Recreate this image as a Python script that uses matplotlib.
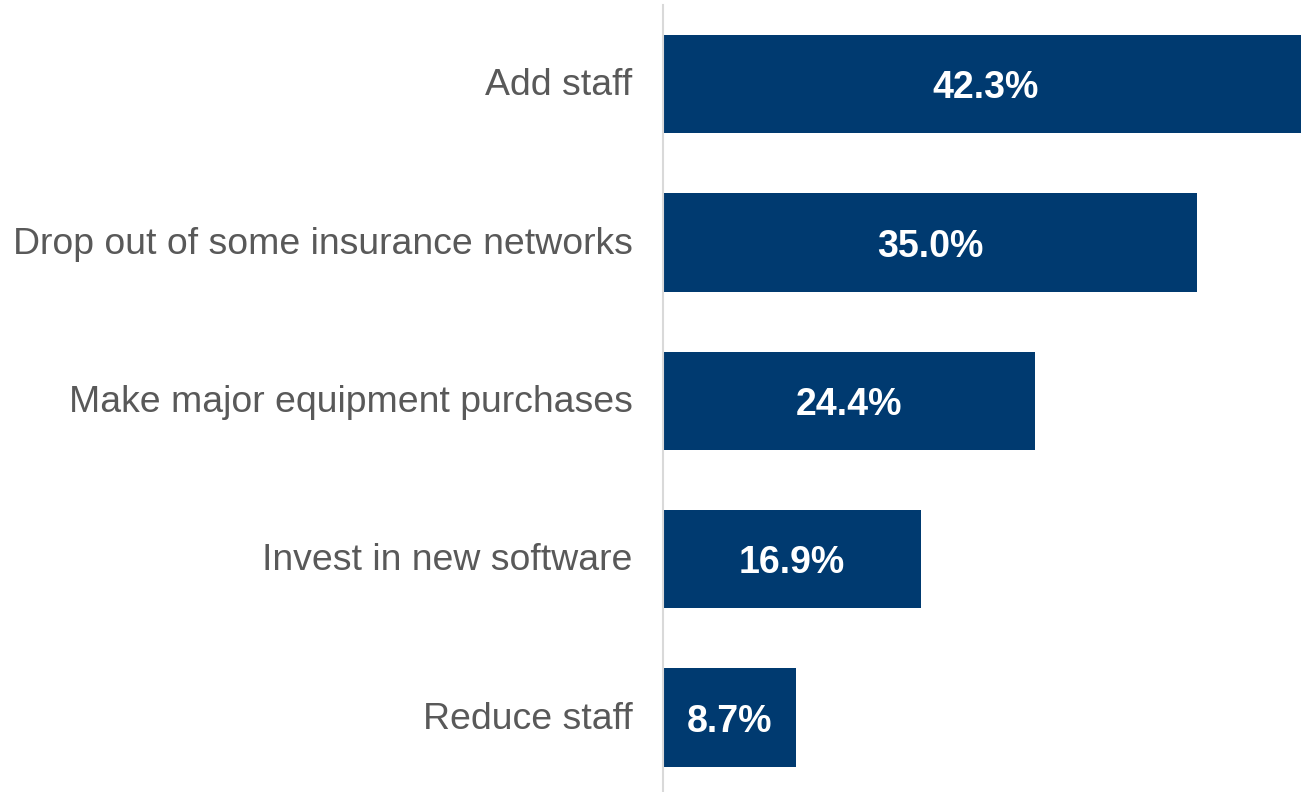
import matplotlib
matplotlib.use("Agg")
import matplotlib.pyplot as plt
from matplotlib.transforms import ScaledTranslation

categories = ["Add staff", "Drop out of some insurance networks",
              "Make major equipment purchases", "Invest in new software", "Reduce staff"]
values = [42.3, 35.0, 24.4, 16.9, 8.7]
value_labels = ["42.3%", "35.0%", "24.4%", "16.9%", "8.7%"]

plt.rcParams['font.family'] = ['Liberation Sans', 'DejaVu Sans']

fig = plt.figure(figsize=(13.01, 7.92), dpi=100)
ax = fig.add_axes([663/1301, 0.0, 1 - 663/1301, 787/792])

ypos = list(range(len(categories)))
ax.barh(ypos, values, height=0.62, color="#003A70", clip_on=True)
down = ax.transData + ScaledTranslation(0, -4/100, fig.dpi_scale_trans)
for y, v, lab in zip(ypos, values, value_labels):
    ax.text(v / 2, y, lab, ha="center", va="center", color="white",
            fontsize=27, fontweight="bold", transform=down)

ax.set_xlim(0, 41.8)
ax.set_ylim(4.47, -0.5)
ax.set_yticks(ypos)
ax.set_yticklabels(categories, fontsize=26.9, color="#595959")
ax.tick_params(axis="y", length=0, pad=22)
up = ScaledTranslation(0, 2.5/100, fig.dpi_scale_trans)
for t in ax.get_yticklabels():
    t.set_transform(t.get_transform() + up)
ax.set_xticks([])
for s in ["top", "right", "bottom"]:
    ax.spines[s].set_visible(False)
ax.spines["left"].set_color("#D9D9D9")
ax.spines["left"].set_linewidth(1.5)

fig.savefig("out.png", dpi=100)
